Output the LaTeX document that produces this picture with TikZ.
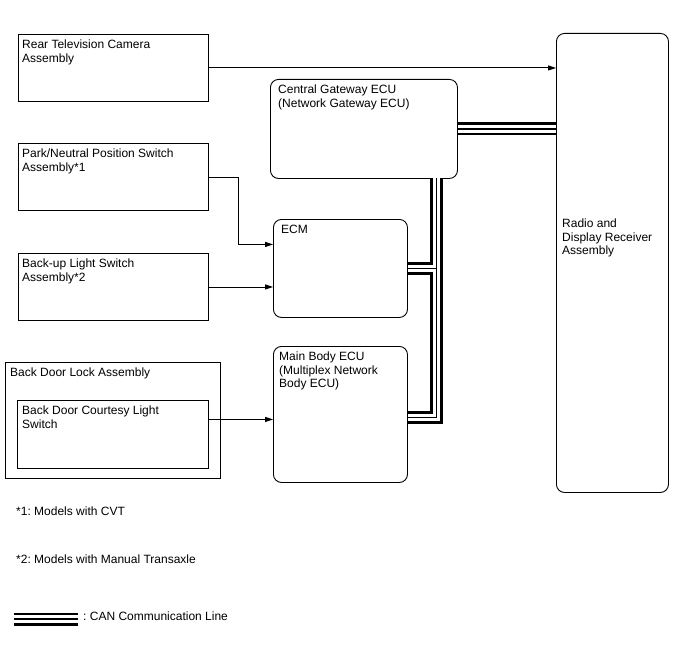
\documentclass[tikz,border=0pt]{standalone}
\usepackage{fontspec}
\setmainfont{Liberation Sans}
\frenchspacing
\usetikzlibrary{positioning,arrows.meta}

\begin{document}
\begin{tikzpicture}[
        x=1pt, y=-1pt,
        box/.style={rectangle, draw=black, line width=0.9pt, anchor=north west, inner sep=0pt},
        rbox/.style={box, rounded corners=8pt},
        lbl/.style={anchor=north west, inner sep=0pt, align=left, font=\fontsize{12pt}{13.5pt}\selectfont},
        sig/.style={line width=0.9pt, -{Triangle[length=8pt,width=5pt]}}
    ]
        \useasboundingbox (0,0) rectangle (688,658);

        % Sensors and switches
        \node[box, minimum width=190pt, minimum height=67pt] (cam) at (18,34) {};
        \node[lbl] (camtxt) at ([shift={(4pt,-6pt)}]cam.north west) {Rear Television Camera\\Assembly};
        \node[box, minimum width=190pt, minimum height=67pt] (park) at (18,143) {};
        \node[lbl] (parktxt) at ([shift={(4pt,-6pt)}]park.north west) {Park/Neutral Position Switch\\Assembly*1};
        \node[box, minimum width=190pt, minimum height=67pt] (bkup) at (18,253) {};
        \node[lbl] (bkuptxt) at ([shift={(4pt,-6pt)}]bkup.north west) {Back-up Light Switch\\Assembly*2};
        \node[box, minimum width=215pt, minimum height=116pt] (lock) at (5,362) {};
        \node[lbl] (locktxt) at ([shift={(5pt,-6pt)}]lock.north west) {Back Door Lock Assembly};
        \node[box, minimum width=191pt, minimum height=68pt] (door) at (17,400) {};
        \node[lbl] (doortxt) at ([shift={(5pt,-6pt)}]door.north west) {Back Door Courtesy Light\\Switch};

        % ECUs
        \node[rbox, minimum width=187pt, minimum height=99pt] (gw) at (270,79) {};
        \node[lbl] (gwtxt) at ([shift={(8pt,-6pt)}]gw.north west) {Central Gateway ECU\\(Network Gateway ECU)};
        \node[rbox, minimum width=134pt, minimum height=98pt] (ecm) at (273,219) {};
        \node[lbl] (ecmtxt) at ([shift={(8pt,-6pt)}]ecm.north west) {ECM};
        \node[rbox, minimum width=134pt, minimum height=136pt] (body) at (273,346) {};
        \node[lbl] (bodytxt) at ([shift={(6pt,-6pt)}]body.north west) {Main Body ECU\\(Multiplex Network\\Body ECU)};
        \node[rbox, minimum width=112pt, minimum height=459pt] (radio) at (556,33) {};
        \node[lbl] (radiotxt) at ([shift={(6pt,44pt)}]radio.west) {Radio and\\Display Receiver\\Assembly};

        % Signal lines
        \draw[sig] (cam.east) -- (cam.east -| radio.west);
        \draw[sig] (park.east) -- ++(30,0) |- ([yshift=24pt]ecm.west);
        \draw[sig] (bkup.east) -- (bkup.east -| ecm.west);
        \draw[sig] ([yshift=15pt]door.east) -- ([yshift=15pt]door.east -| body.west);

        % CAN bus
        \coordinate (bustop) at (436.5,178);
        \coordinate (legA) at (14,619);
        \coordinate (legB) at (78,619);
        \foreach \lw/\col in {13/black, 7.6/white, 1.5/black} {
            \draw[line width=\lw pt, \col] (bustop) |- (ecm.east);
            \draw[line width=\lw pt, \col] (bustop) |- ([yshift=-3pt]body.east);
            \draw[line width=\lw pt, \col] (gw.east) -- (gw.east -| radio.west);
            \draw[line width=\lw pt, \col] (legA) -- (legB);
        }

        % Notes
        \node[lbl] (note1) at (16,507) {*1: Models with CVT};
        \node[lbl] (note2) at (16,555) {*2: Models with Manual Transaxle};
        \node[lbl] (legtxt) at (83,612) {: CAN Communication Line};
    \end{tikzpicture}
\end{document}
